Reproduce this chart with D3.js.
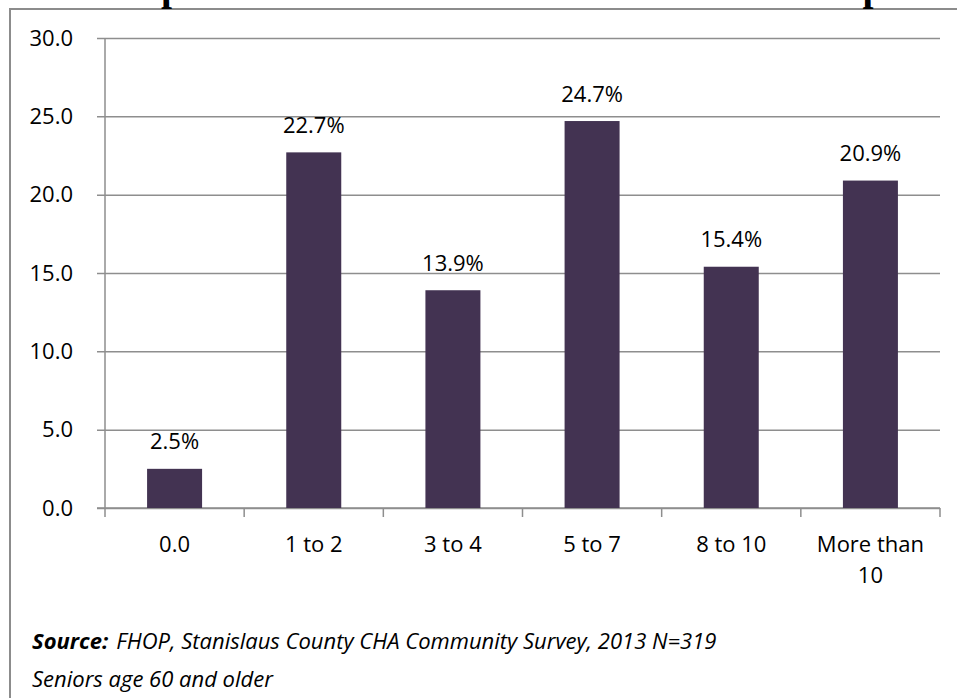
<!DOCTYPE html>
<html>
<head>
<meta charset="utf-8">
<script src="https://cdn.jsdelivr.net/npm/d3@7"></script>
<style>
  html, body { margin: 0; padding: 0; background: #fff; overflow: hidden; }
  text { font-family: "Open Sans", sans-serif; fill: #000; }
</style>
</head>
<body>
<div id="chart"></div>
<script>
// chart data
var categories = ["0.0", "1 to 2", "3 to 4", "5 to 7", "8 to 10", "More than 10"];
var values = [2.5, 22.7, 13.9, 24.7, 15.4, 20.9];
var valueLabels = ["2.5%", "22.7%", "13.9%", "24.7%", "15.4%", "20.9%"];
var yTicks = [0, 5, 10, 15, 20, 25, 30];
var title = "People to Feel Comfortable to Call on for Help";
var sourceLine1 = "FHOP, Stanislaus County CHA Community Survey, 2013 N=319";
var sourceLine2 = "Seniors age 60 and older";

var svgWidth = 957;
var svgHeight = 698;

var plot = { left: 105, right: 940, top: 38, bottom: 508 };
var plotWidth = plot.right - plot.left;

var svg = d3.select("#chart")
  .append("svg")
  .attr("width", svgWidth)
  .attr("height", svgHeight);

// outer frame (runs off right and bottom edges)
svg.append("rect")
  .attr("x", 10)
  .attr("y", 9)
  .attr("width", 1000)
  .attr("height", 800)
  .attr("fill", "none")
  .attr("stroke", "#8c8c8c")
  .attr("stroke-width", 2);

// title, mostly cut off by the top edge
svg.append("text")
  .attr("x", 492)
  .attr("y", 0)
  .attr("text-anchor", "middle")
  .style("font-family", "'Liberation Serif', serif")
  .style("font-weight", "bold")
  .style("font-size", "39.5px")
  .text(title);

var x = d3.scaleBand()
  .domain(categories)
  .range([plot.left, plot.right])
  .padding(0);

var y = d3.scaleLinear()
  .domain([0, 30])
  .range([plot.bottom, plot.top]);

var barWidth = 55;

// gridlines + y tick labels
var yAxis = d3.axisLeft(y)
  .tickValues(yTicks)
  .tickFormat(d3.format(".1f"))
  .tickSize(-plotWidth)
  .tickPadding(32);

var yg = svg.append("g")
  .attr("transform", `translate(${plot.left}, 0)`)
  .call(yAxis);
yg.select(".domain").remove();
yg.selectAll(".tick line")
  .attr("x1", -8)
  .attr("x2", plotWidth)
  .attr("stroke", "#8e8e8e")
  .attr("stroke-width", 1.5);
yg.selectAll(".tick text")
  .attr("x", -32)
  .style("font-size", "22px")
  .style("font-family", "'Open Sans', sans-serif");

// y axis line
svg.append("line")
  .attr("x1", plot.left).attr("x2", plot.left)
  .attr("y1", plot.top).attr("y2", plot.bottom)
  .attr("stroke", "#8e8e8e").attr("stroke-width", 1.5);

// x axis line and ticks at category boundaries
svg.append("line")
  .attr("x1", plot.left - 8).attr("x2", plot.right)
  .attr("y1", plot.bottom).attr("y2", plot.bottom)
  .attr("stroke", "#8e8e8e").attr("stroke-width", 1.5);

var boundaries = categories.map(d => x(d)).concat([plot.right]);
svg.selectAll(".xtick")
  .data(boundaries)
  .enter()
  .append("line")
  .attr("class", "xtick")
  .attr("x1", d => d).attr("x2", d => d)
  .attr("y1", plot.bottom).attr("y2", plot.bottom + 9)
  .attr("stroke", "#8e8e8e").attr("stroke-width", 1.5);

// bars
svg.selectAll(".bar")
  .data(values)
  .enter()
  .append("rect")
  .attr("class", "bar")
  .attr("x", (d, i) => x(categories[i]) + (x.bandwidth() - barWidth) / 2)
  .attr("y", d => y(d))
  .attr("width", barWidth)
  .attr("height", d => y(0) - y(d))
  .attr("fill", "#433352");

// value labels
svg.selectAll(".vlabel")
  .data(values)
  .enter()
  .append("text")
  .attr("class", "vlabel")
  .attr("x", (d, i) => x(categories[i]) + x.bandwidth() / 2)
  .attr("y", d => y(d) - 19.5)
  .attr("text-anchor", "middle")
  .style("font-size", "22px")
  .text((d, i) => valueLabels[i]);

// category labels (wrap "More than 10")
svg.selectAll(".xlabel")
  .data(categories)
  .enter()
  .append("text")
  .attr("class", "xlabel")
  .attr("x", d => x(d) + x.bandwidth() / 2)
  .attr("y", 552)
  .attr("text-anchor", "middle")
  .style("font-size", "22px")
  .each(function(d) {
    var t = d3.select(this);
    var parts = d === "More than 10" ? ["More than", "10"] : [d];
    parts.forEach(function(p, i) {
      t.append("tspan")
        .attr("x", x(d) + x.bandwidth() / 2)
        .attr("dy", i === 0 ? 0 : 31)
        .text(p);
    });
  });

// source note
var src = svg.append("text")
  .attr("x", 32)
  .attr("y", 649)
  .style("font-size", "22px")
  .style("font-style", "italic");
src.append("tspan").style("font-weight", "bold").text("Source:");
src.append("tspan").attr("dx", 8).text(sourceLine1);

svg.append("text")
  .attr("x", 32)
  .attr("y", 687)
  .style("font-size", "22px")
  .style("font-style", "italic")
  .text(sourceLine2);
</script>
</body>
</html>
